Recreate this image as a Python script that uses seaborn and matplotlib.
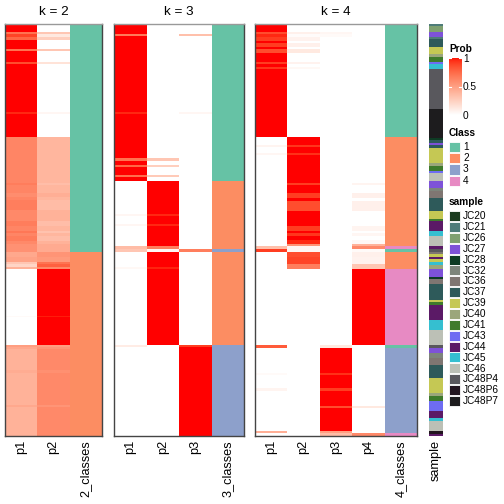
import numpy as np
import pandas as pd
import matplotlib
matplotlib.use("Agg")
import matplotlib.pyplot as plt
from matplotlib.colors import ListedColormap
from matplotlib.patches import Rectangle
import seaborn as sns

plt.rcParams['font.family'] = ['Liberation Sans', 'DejaVu Sans']

N_ROWS = 412

# ---------------- data (row segments: start row, value) ----------------
k2_start = [0, 8, 10, 13, 16, 25, 27, 38, 40, 88, 90, 113, 159, 161, 169, 173, 176, 186, 197, 202,
            207, 209, 212, 217, 220, 228, 233, 238, 240, 243, 245, 292, 293, 321, 323, 325, 346, 349, 381, 383]
k2_p1 = [1, .70, .88, .75, 1, .70, 1, .85, 1, .95, 1, .62, .66, .62, .58, .62, .65, .60, .66, .62,
         .68, .62, .66, .60, .56, .45, .48, .30, .22, .40, 0, .03, 0, .50, .45, .40, .43, .40, .45, .40]
k2_p2 = [0, .30, .12, .25, 0, .30, 0, .15, 0, .05, 0, .38, .34, .38, .42, .38, .35, .40, .34, .38,
         .32, .38, .34, .40, .44, .55, .52, .70, .78, .60, 1, .97, 1, .50, .55, .60, .57, .60, .55, .60]
k2_class = [1] * 25 + [2] * 15

k3_start = [0, 10, 12, 88, 90, 134, 137, 141, 143, 151, 153, 157, 190, 192, 200, 202, 222, 225, 228,
            243, 245, 321, 323]
k3_p1 = [1, .67, 1, .95, 1, .70, 1, .75, 1, .72, 1, 0, .05, 0, .05, 0, .35, .30, 0, .04, 0, .10, 0]
k3_p2 = [0, 0, 0, 0, 0, .30, 0, .25, 0, .28, 0, 1, .95, 1, .95, 1, .65, .05, 1, .96, 1, 0, 0]
k3_p3 = [0, .33, 0, .05, 0, 0, 0, 0, 0, 0, 0, 0, 0, 0, 0, 0, 0, .65, 0, 0, 0, .90, 1]
k3_class = [1, 1, 1, 1, 1, 1, 1, 1, 1, 1, 1, 2, 2, 2, 2, 2, 2, 3, 2, 2, 2, 3, 3]

k4_start = [0, 8, 10, 13, 17, 19, 23, 25, 29, 38, 40, 43, 45,
            113, 121, 123, 129, 131, 159, 161, 169, 174, 177, 187, 202, 207, 209, 212, 216, 220,
            222, 225, 228, 233, 240, 245,
            321, 324, 349, 351, 364, 367, 382, 384, 407, 409]
k4_p1 = [1, .85, .95, .90, 1, .90, 1, .85, 1, .90, 1, .92, 1,
         0, .06, 0, .05, 0, 0, 0, 0, 0, 0, 0, 0, 0, 0, 0, 0, 0,
         .33, .90, 0, 0, 0, 0,
         .80, 0, .03, 0, .06, 0, 0, 0, .42, 0]
k4_p2 = [0, .08, .02, .07, 0, .08, 0, .12, 0, .07, 0, .04, 0,
         1, .92, 1, .93, 1, .90, 1, .90, 1, .85, 1, .90, 1, .92, 1, .95, .55,
         .05, .05, .85, .88, .65, 0,
         0, 0, 0, 0, 0, 0, 0, 0, 0, 0]
k4_p3 = [0, .05, .03, 0, 0, 0, 0, 0, 0, 0, 0, 0, 0,
         0, 0, 0, 0, 0, 0, 0, 0, 0, 0, 0, 0, 0, 0, 0, 0, 0,
         0, 0, 0, 0, 0, 0,
         .12, 1, .93, 1, .90, 1, .85, 1, .50, .35]
k4_p4 = [0, 0, 0, 0, 0, 0, 0, 0, 0, 0, 0, 0, 0,
         0, 0, 0, 0, 0, .06, 0, .08, 0, .08, 0, .06, 0, .05, 0, .04, .40,
         .60, .03, .08, .07, .30, 1,
         0, 0, 0, 0, 0, 0, .12, 0, 0, .60]
k4_class = [1] * 13 + [2] * 17 + [4, 1, 2, 2, 2, 4] + [1, 3, 3, 3, 3, 3, 3, 3, 3, 4]

sample_start = [0, 2, 8, 13, 15, 23, 30, 33, 38, 40, 45, 85, 114, 116, 119, 121, 124, 139, 142, 147,
                149, 157, 164, 167, 174, 187, 195, 197, 207, 212, 222, 225, 228, 230, 233, 235, 238,
                241, 245, 253, 255, 260, 276, 278, 281, 296, 306, 321, 324, 329, 334, 341, 354, 369,
                372, 377, 387, 394, 397, 407, 410]
sample_name = ["JC21", "JC26", "JC27", "JC21", "JC37", "JC39", "JC40", "JC41", "JC43", "JC45",
               "JC48P4", "JC48P7", "JC28", "JC37", "JC27", "JC37", "JC39", "JC40", "JC41", "JC43",
               "JC46", "JC27", "JC32", "JC36", "JC37", "JC39", "JC41", "JC44", "JC45", "JC46",
               "JC44", "JC48P4", "JC36", "JC39", "JC44", "JC39", "JC45", "JC40", "JC27", "JC28",
               "JC36", "JC37", "JC39", "JC41", "JC44", "JC45", "JC46", "JC48P4", "JC27", "JC32",
               "JC36", "JC37", "JC39", "JC40", "JC41", "JC43", "JC44", "JC45", "JC46", "JC48P6", "JC44"]

sample_levels = ["JC20", "JC21", "JC26", "JC27", "JC28", "JC32", "JC36", "JC37", "JC39", "JC40",
                 "JC41", "JC43", "JC44", "JC45", "JC46", "JC48P4", "JC48P6", "JC48P7"]
sample_colors = ["#1B3B1F", "#4E7C79", "#7FA070", "#7E52D8", "#0E3B24", "#7D857B", "#7F7672",
                 "#2E5A5A", "#C5C854", "#9BA67B", "#3F7B2C", "#6E6CF2", "#5B1A66", "#35BFD0",
                 "#BCC0B6", "#59585D", "#22151F", "#1D1C1E"]
class_levels = ["1", "2", "3", "4"]
class_colors = ["#66C2A5", "#FC8D62", "#8DA0CB", "#E78AC3"]


def expand(starts, values, n=N_ROWS):
    bounds = list(starts) + [n]
    return np.concatenate([np.full(bounds[i + 1] - bounds[i], values[i], dtype=object)
                           for i in range(len(values))])


# ---------------- colour map: white -> red interpolated in LAB ----------------
def _to_lab(rgb):
    c = np.asarray(rgb, float)
    lin = np.where(c <= 0.04045, c / 12.92, ((c + 0.055) / 1.055) ** 2.4)
    M = np.array([[0.4124, 0.3576, 0.1805], [0.2126, 0.7152, 0.0722], [0.0193, 0.1192, 0.9505]])
    xyz = M @ lin / np.array([0.95047, 1.0, 1.08883])
    d = 6 / 29
    f = np.where(xyz > d ** 3, np.cbrt(xyz), xyz / (3 * d * d) + 4 / 29)
    return np.array([116 * f[1] - 16, 500 * (f[0] - f[1]), 200 * (f[1] - f[2])])


def _from_lab(lab):
    L, a, b = lab
    fy = (L + 16) / 116
    fx = fy + a / 500
    fz = fy - b / 200
    d = 6 / 29
    finv = lambda t: t ** 3 if t > d else 3 * d * d * (t - 4 / 29)
    xyz = np.array([finv(fx) * 0.95047, finv(fy), finv(fz) * 1.08883])
    Minv = np.array([[3.2406, -1.5372, -0.4986], [-0.9689, 1.8758, 0.0415], [0.0557, -0.2040, 1.0570]])
    lin = np.clip(Minv @ xyz, 0, 1)
    return np.where(lin <= 0.0031308, 12.92 * lin, 1.055 * lin ** (1 / 2.4) - 0.055)


lw_, lr_ = _to_lab([1, 1, 1]), _to_lab([1, 0, 0])
prob_cmap = ListedColormap([np.clip(_from_lab(lw_ + t * (lr_ - lw_)), 0, 1) for t in np.linspace(0, 1, 256)])
class_cmap = ListedColormap(class_colors)
sample_cmap = ListedColormap(sample_colors)

# ---------------- figure ----------------
fig = plt.figure(figsize=(5.04, 5.04), dpi=100)


def frect(x0, y0, x1, y1):
    return [x0 / 504, 1 - y1 / 504, (x1 - x0) / 504, (y1 - y0) / 504]


panels = [
    (2, [k2_p1, k2_p2], k2_start, k2_class, (5, 102)),
    (3, [k3_p1, k3_p2, k3_p3], k3_start, k3_class, (114, 244)),
    (4, [k4_p1, k4_p2, k4_p3, k4_p4], k4_start, k4_class, (255, 417)),
]

TICK_FS = 9.2
for k, probs, starts, cls, (x0, x1) in panels:
    ax = fig.add_axes(frect(x0, 24, x1, 436))
    cols = [f"p{i + 1}" for i in range(k)] + [f"{k}_classes"]
    prob_df = pd.DataFrame({c: expand(starts, p).astype(float) for c, p in zip(cols, probs)})
    prob_df[cols[-1]] = np.nan
    cls_df = pd.DataFrame({c: np.nan for c in cols[:-1]}, index=range(N_ROWS))
    cls_df[cols[-1]] = expand(starts, cls).astype(float)
    sns.heatmap(prob_df, ax=ax, cmap=prob_cmap, vmin=0, vmax=1, cbar=False,
                xticklabels=cols, yticklabels=False)
    sns.heatmap(cls_df, ax=ax, cmap=class_cmap, vmin=0.5, vmax=4.5, cbar=False,
                xticklabels=cols, yticklabels=False)
    ax.set_xticklabels(cols, rotation=90, fontsize=TICK_FS)
    ax.tick_params(axis='x', length=0, pad=3)
    ax.set_xlabel("")
    ax.set_ylabel("")
    ax.set_title(f"k = {k}", fontsize=9.7, pad=6.5)
    for side, sp in ax.spines.items():
        sp.set_visible(True)
        sp.set_linewidth(1.0)
        sp.set_color('#999999' if side == 'top' else '#444444')

# sample annotation column
axs = fig.add_axes(frect(429, 24, 443, 436))
s_codes = [sample_levels.index(n) for n in sample_name]
sample_df = pd.DataFrame({"sample": expand(sample_start, s_codes).astype(float)})
sns.heatmap(sample_df, ax=axs, cmap=sample_cmap, vmin=-0.5, vmax=len(sample_levels) - 0.5,
            cbar=False, xticklabels=["sample"], yticklabels=False)
axs.set_xticklabels(["sample"], rotation=90, fontsize=TICK_FS)
axs.tick_params(axis='x', length=0, pad=3)
axs.set_ylabel("")

# ---------------- legends ----------------
LEG_FS = 7.3
axl = fig.add_axes([0, 0, 1, 1], zorder=5)
axl.set_xlim(0, 504)
axl.set_ylim(504, 0)
axl.axis('off')

# Prob colour bar
axl.text(449, 49, "Prob", fontsize=LEG_FS, fontweight='bold', va='center', ha='left')
axc = fig.add_axes(frect(449, 58, 461, 115), zorder=4)
grad = np.linspace(1, 0, 200).reshape(-1, 1)
axc.imshow(grad, aspect='auto', cmap=prob_cmap, vmin=0, vmax=1, extent=[0, 1, 0, 1])
axc.axis('off')
for val, lab in [(1, "1"), (0.5, "0.5"), (0, "0")]:
    y = 115 - val * (115 - 58)
    axl.text(463, y + 1, lab, fontsize=LEG_FS, va='center', ha='left')
    if val > 0:
        axl.plot([449, 451], [y, y], color='white', lw=0.8)
        axl.plot([459, 461], [y, y], color='white', lw=0.8)

# Class legend
axl.text(449, 133, "Class", fontsize=LEG_FS, fontweight='bold', va='center', ha='left')
for i, (lab, col) in enumerate(zip(class_levels, class_colors)):
    y0 = 141.7 + i * 11.3
    axl.add_patch(Rectangle((449, y0), 10.5, 10.3, facecolor=col, edgecolor='white', lw=0.6))
    axl.text(463, y0 + 5.2, lab, fontsize=LEG_FS, va='center', ha='left')

# sample legend
axl.text(449, 202, "sample", fontsize=LEG_FS, fontweight='bold', va='center', ha='left')
for i, (lab, col) in enumerate(zip(sample_levels, sample_colors)):
    y0 = 211 + i * 10.88
    axl.add_patch(Rectangle((449, y0), 10.5, 10.0, facecolor=col, edgecolor='white', lw=0.6))
    axl.text(463, y0 + 5.2, lab, fontsize=LEG_FS, va='center', ha='left')

fig.savefig("out.png", dpi=100)
